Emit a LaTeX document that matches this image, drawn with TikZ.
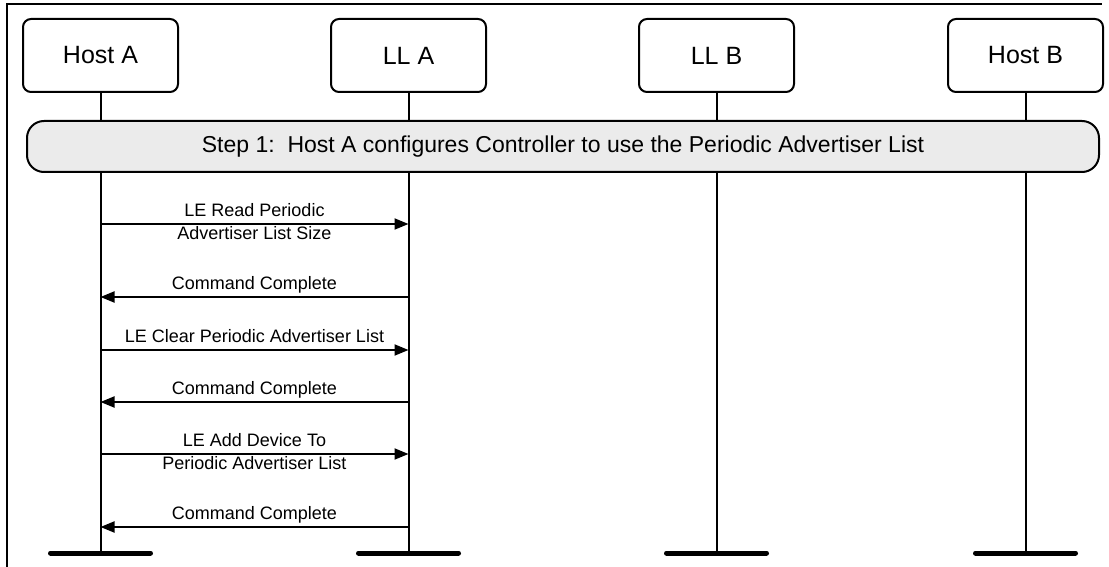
\documentclass[tikz,border=0pt]{standalone}
\usepackage{fontspec}
\setmainfont{Liberation Sans}
\usetikzlibrary{arrows.meta}
\begin{document}
\begin{tikzpicture}[x=1pt,y=-1pt,
  actor/.style={draw,line width=2pt,rounded corners=8pt,minimum width=155pt,minimum height=73pt,inner sep=0pt,font=\fontsize{25}{30}\selectfont},
  life/.style={line width=2pt},
  msg/.style={line width=2pt,-{Triangle[length=14pt,width=11pt]}},
  lbl/.style={font=\fontsize{18}{22}\selectfont,inner sep=3pt,text height=13.5pt,text depth=4pt},
  foot/.style={line width=5pt,line cap=round},
  stepbar/.style={draw,line width=2pt,rounded corners=17pt,fill=black!8,minimum width=1072pt,minimum height=51pt,font=\fontsize{23}{28}\selectfont}]
\useasboundingbox (0,0) rectangle (1109,567);
\draw[line width=2pt] (7,567) -- (7,4) -- (1102,4);
% actors
\node[actor] (ha) at (100.5,55.5) {Host A};
\node[actor] (la) at (408.5,55.5) {LL A};
\node[actor] (lb) at (716.5,55.5) {LL B};
\node[actor] (hb) at (1025.5,55.5) {Host B};
% feet
\coordinate (fha) at (100.5,553);
\coordinate (fla) at (408.5,553);
\coordinate (flb) at (716.5,553);
\coordinate (fhb) at (1025.5,553);
\draw[life] (ha.south) -- (fha);
\draw[life] (la.south) -- (fla);
\draw[life] (lb.south) -- (flb);
\draw[life] (hb.south) -- (fhb);
\draw[foot] ([xshift=-50pt]fha) -- ([xshift=50pt]fha);
\draw[foot] ([xshift=-50pt]fla) -- ([xshift=50pt]fla);
\draw[foot] ([xshift=-50pt]flb) -- ([xshift=50pt]flb);
\draw[foot] ([xshift=-50pt]fhb) -- ([xshift=50pt]fhb);
% step bar
\node[stepbar] (s1) at (563,146.5) {Step 1:\ \ Host A configures Controller to use the Periodic Advertiser List};
% message points
\coordinate (a1) at (100.5,224); \coordinate (b1) at (408.5,224);
\coordinate (a2) at (100.5,297); \coordinate (b2) at (408.5,297);
\coordinate (a3) at (100.5,350); \coordinate (b3) at (408.5,350);
\coordinate (a4) at (100.5,402); \coordinate (b4) at (408.5,402);
\coordinate (a5) at (100.5,454); \coordinate (b5) at (408.5,454);
\coordinate (a6) at (100.5,527); \coordinate (b6) at (408.5,527);
\draw[msg] (a1) -- (b1) node[lbl,midway,above] {LE Read Periodic} node[lbl,midway,below,inner sep=1pt] {Advertiser List Size};
\draw[msg] (b2) -- (a2) node[lbl,midway,above] {Command Complete};
\draw[msg] (a3) -- (b3) node[lbl,midway,above] {LE Clear Periodic Advertiser List};
\draw[msg] (b4) -- (a4) node[lbl,midway,above] {Command Complete};
\draw[msg] (a5) -- (b5) node[lbl,midway,above] {LE Add Device To} node[lbl,midway,below,inner sep=1pt] {Periodic Advertiser List};
\draw[msg] (b6) -- (a6) node[lbl,midway,above] {Command Complete};
\end{tikzpicture}
\end{document}
